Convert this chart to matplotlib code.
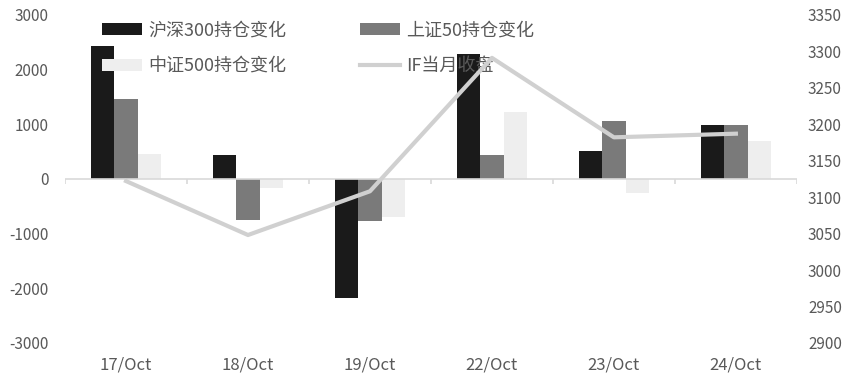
import numpy as np
import matplotlib.pyplot as plt
import matplotlib.transforms as mtransforms

plt.rcParams['font.family'] = ['Noto Sans CJK SC', 'DejaVu Sans']
plt.rcParams['axes.unicode_minus'] = False

# data
dates = ["17/Oct", "18/Oct", "19/Oct", "22/Oct", "23/Oct", "24/Oct"]
hs300_chg = [2430, 440, -2175, 2285, 510, 990]
sz50_chg = [1460, -750, -770, 440, 1060, 990]
zz500_chg = [457, -165, -700, 1225, -255, 695]
if_close = [3122, 3048, 3108, 3291, 3182, 3187]

labels = ["沪深300持仓变化", "上证50持仓变化", "中证500持仓变化", "IF当月收盘"]
txt_color = "#595959"

fig = plt.figure(figsize=(8.6, 3.81), dpi=100)
ax = fig.add_axes([0.0756, 0.100, 0.851, 0.861])
ax2 = ax.twinx()

x = np.arange(len(dates))
w = 0.193
b1 = ax.bar(x - w, hs300_chg, w, color="#1a1a1a", label=labels[0])
b2 = ax.bar(x, sz50_chg, w, color="#7a7a7a", label=labels[1])
b3 = ax.bar(x + w, zz500_chg, w, color="#eeeeee", label=labels[2])

# zero line with category separators
ax.axhline(0, color="#d9d9d9", lw=1.2, zorder=1)
ax.vlines(np.arange(len(dates) + 1) - 0.5, -90, 0, color="#d9d9d9", lw=1.2)

ln, = ax2.plot(x, if_close, color="#d0d0d0", lw=3, label=labels[3])

ax.set_xlim(-0.5, len(dates) - 0.5)
ax.set_ylim(-3000, 3000)
ax.set_yticks(np.arange(-3000, 3001, 1000))
ax2.set_ylim(2900, 3350)
ax2.set_yticks(np.arange(2900, 3351, 50))

ax.set_xticks([])
trans = mtransforms.blended_transform_factory(ax.transData, ax.transAxes)
for i, d in enumerate(dates):
    ax.text(i, -0.068, d, transform=trans, ha="center", va="center",
            fontsize=12, color=txt_color)

for a in (ax, ax2):
    for s in a.spines.values():
        s.set_visible(False)
    a.tick_params(axis="y", length=0, labelsize=11, labelcolor=txt_color)
ax.tick_params(axis="y", pad=12)
ax2.tick_params(axis="y", pad=8)

# legend is filled column by column, so order handles to read row-wise
ax.legend(handles=[b1, b3, b2, ln],
          labels=[labels[0], labels[2], labels[1], labels[3]],
          ncol=2, loc="upper left", bbox_to_anchor=(0.041, 1.002),
          frameon=False, fontsize=13, labelcolor=txt_color,
          handlelength=2.2, handleheight=0.66, columnspacing=4.1,
          handletextpad=0.33, labelspacing=0.98, borderaxespad=0)

fig.savefig("out.png", dpi=100)
